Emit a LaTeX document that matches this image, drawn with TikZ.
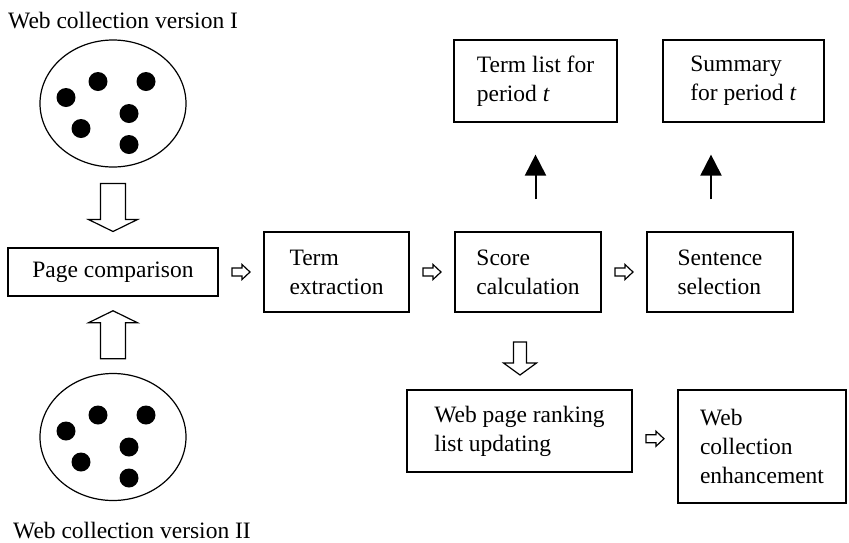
\documentclass[tikz,border=0pt]{standalone}
\usepackage{fontspec}
\setmainfont{Liberation Serif}
\usepackage{tikz}
\usetikzlibrary{shapes.geometric, arrows.meta, calc}

\tikzset{
	pics/fatarrow/.style n args={4}{% half length, shaft, head, head length
		code={\draw (-#1,-#2) -- ({#1-#4},-#2) -- ({#1-#4},-#3) -- (#1,0)
			-- ({#1-#4},#3) -- ({#1-#4},#2) -- (-#1,#2) -- cycle;}}
}

\begin{document}
\begin{tikzpicture}[x=1pt,y=-1pt,
		every node/.style={font=\fontsize{23.5}{29}\selectfont},
		box/.style={draw, line width=1.2pt, align=left, inner sep=0pt},
		coll/.style={draw, ellipse, line width=1.2pt, minimum width=146, minimum height=127, inner sep=0pt},
		label/.style={anchor=base west, inner sep=0pt},
		uparrow/.style={line width=2pt, -{Triangle[length=21pt,width=21pt]}},
		hollow/.style={line width=1.2pt, line join=miter}]
	\useasboundingbox (0,0) rectangle (849,542);
	
	% the two web collections
	\node[label] (lbltop) at (8,28) {Web collection version I};
	\node[coll] (topcoll) at (113,103.5) {};
	\node[coll] (botcoll) at (113,437) {};
	\node[label] (lblbot) at (13,538) {Web collection version II};
	\foreach \c in {topcoll,botcoll}
		\foreach \dx/\dy in {-47/-6, -15/-22, 33/-22, 16/10, -32/25, 16/41}
			\fill ([shift={(\dx,\dy)}]\c.center) circle (9.5);
	
	% processing steps
	\node[box, minimum width=210, minimum height=48] (pagecmp) at (113,272) {Page comparison};
	\node[box, minimum width=145, minimum height=80] (termext) at (336.5,272) {Term\\extraction};
	\node[box, minimum width=146, minimum height=80] (score) at (528,272) {Score\\calculation};
	\node[box, minimum width=146, minimum height=80] (sentsel) at (720,272) {Sentence\\selection};
	\node[box, minimum width=163, minimum height=82] (termlist) at (535.5,81) {Term list for\\period \textit{t}};
	\node[box, minimum width=161, minimum height=82] (summary) at (743.5,81) {Summary\\for period \textit{t}};
	\node[box, minimum width=225, minimum height=82] (ranking) at (519.5,431) {Web page ranking\\list updating};
	\node[box, minimum width=168, minimum height=113] (enhance) at (762,446.5) {Web\\collection\\enhancement};
	
	% big hollow arrows
	\pic[hollow, rotate=-90] at ($(topcoll.south)!.5!(pagecmp.north)$) {fatarrow={24}{12.5}{24.5}{12}};
	\pic[hollow, rotate=90] at ($(botcoll.north)!.5!(pagecmp.south)$) {fatarrow={24}{12.5}{24.5}{12}};
	\pic[hollow, rotate=-90] at (520,358.5) {fatarrow={16.5}{6.5}{16.5}{12}};
	
	% small hollow arrows between the steps
	\pic[hollow] at ($(pagecmp.east)!.5!(termext.west)$) {fatarrow={9}{4}{7.5}{8}};
	\pic[hollow] at ($(termext.east)!.5!(score.west)$) {fatarrow={9}{4}{7.5}{8}};
	\pic[hollow] at ($(score.east)!.5!(sentsel.west)$) {fatarrow={9}{4}{7.5}{8}};
	\pic[hollow] at ($(ranking.east)!.5!(enhance.west)$) {fatarrow={9}{4}{7.5}{8}};
	
	% outputs
	\draw[uparrow, shorten <=32pt, shorten >=32pt] (termlist.south |- score.north) -- (termlist.south);
	\draw[uparrow, shorten <=32pt, shorten >=32pt] ([xshift=-9pt]sentsel.north) -- ([xshift=-9pt]sentsel.north |- summary.south);
\end{tikzpicture}
\end{document}
